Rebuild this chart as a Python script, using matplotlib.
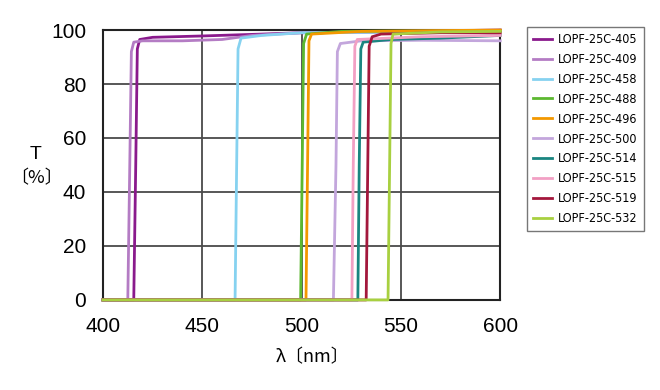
import matplotlib
matplotlib.use("Agg")
import matplotlib.pyplot as plt
from matplotlib import font_manager
from matplotlib.font_manager import FontProperties

names = ["LOPF-25C-405", "LOPF-25C-409", "LOPF-25C-458", "LOPF-25C-488", "LOPF-25C-496",
         "LOPF-25C-500", "LOPF-25C-514", "LOPF-25C-515", "LOPF-25C-519", "LOPF-25C-532"]
colors = ["#8a1a8c", "#b47cc4", "#86d2f0", "#5cb830", "#f39800",
          "#c3a6dc", "#1a8580", "#f2a0c4", "#a3173c", "#a8d040"]

wl_405 = [400, 415.5, 416.5, 417.3, 418.5, 425, 450, 480, 500, 550, 600]
t_405 = [0, 0, 50, 93, 96.5, 97.3, 97.8, 98.5, 99, 99.5, 100]
wl_409 = [400, 412.5, 413.5, 414.3, 415.5, 420, 440, 460, 475, 500, 600]
t_409 = [0, 0, 50, 92, 95.5, 96, 96, 96.5, 98, 99, 99.5]
wl_458 = [400, 466.5, 467.3, 468, 469.5, 480, 500, 600]
t_458 = [0, 0, 50, 93, 97, 98, 99, 99.5]
wl_488 = [400, 499.5, 500.3, 501, 502.5, 520, 600]
t_488 = [0, 0, 50, 95, 98.5, 99.5, 99.8]
wl_496 = [400, 502.2, 503, 503.7, 505, 530, 600]
t_496 = [0, 0, 50, 96, 98.5, 99.5, 100]
wl_500 = [400, 516, 517.3, 518, 519.5, 530, 560, 600]
t_500 = [0, 0, 50, 92, 95, 96, 96.2, 96]
wl_514 = [400, 528.3, 529, 529.8, 531, 545, 570, 600]
t_514 = [0, 0, 50, 93, 95.5, 96.5, 97, 98]
wl_515 = [400, 525.3, 526, 526.8, 528, 560, 600]
t_515 = [0, 0, 50, 94, 96.5, 97.5, 98]
wl_519 = [400, 532.5, 533.3, 534, 535.5, 540, 570, 600]
t_519 = [0, 0, 50, 94, 97.5, 98.5, 99, 99]
wl_532 = [400, 543.5, 544.3, 545, 546, 570, 600]
t_532 = [0, 0, 50, 95, 98.5, 99.3, 99.5]

series = [(wl_405, t_405), (wl_409, t_409), (wl_458, t_458), (wl_488, t_488), (wl_496, t_496),
          (wl_500, t_500), (wl_514, t_514), (wl_515, t_515), (wl_519, t_519), (wl_532, t_532)]

xticks = [400, 450, 500, 550, 600]
yticks = [0, 20, 40, 60, 80, 100]

avail = {f.name for f in font_manager.fontManager.ttflist}
if "Liberation Sans Narrow" in avail:
    legprop = FontProperties(family="Liberation Sans Narrow", size=10)
else:
    legprop = FontProperties(family="DejaVu Sans", stretch="condensed", size=9)
plt.rcParams['font.family'] = ["Liberation Sans", "Noto Sans CJK JP", "DejaVu Sans"]

fig = plt.figure(figsize=(6.6, 3.9), dpi=100)
ax = fig.add_axes([0.156, 0.231, 0.602, 0.692])

lines = []
for (wl, t), c, n in zip(series, colors, names):
    ln, = ax.plot(wl, t, color=c, lw=2, label=n, solid_joinstyle="round",
                  clip_on=False, zorder=3)
    lines.append(ln)

ax.set_xlim(400, 600)
ax.set_ylim(0, 100)
ax.set_xticks(xticks)
ax.set_yticks(yticks)
ax.tick_params(length=0, labelsize=15)
ax.tick_params(axis="x", pad=12)
ax.tick_params(axis="y", pad=12)
ax.grid(True, color="#4a4a4a", lw=1.3)
ax.set_axisbelow(True)
for s in ax.spines.values():
    s.set_color("#222222")
    s.set_linewidth(1.5)
    s.set_zorder(2.5)

fig.text(0.054, 0.603, "T", fontsize=14, ha="center", va="center",
         family=["Liberation Sans", "Noto Sans CJK JP"])
fig.text(0.056, 0.544, "〔%〕", fontsize=13, ha="center", va="center",
         family=["Noto Sans CJK JP", "DejaVu Sans"])
fig.text(0.474, 0.085, "λ〔nm〕", fontsize=13, ha="center", va="center",
         family=["Noto Sans CJK JP", "DejaVu Sans"])

leg = fig.legend(handles=lines, loc="upper left", bbox_to_anchor=(0.798, 0.931),
                 borderaxespad=0.0,
                 frameon=True, fancybox=False, edgecolor="#555555",
                 prop=legprop, handlelength=1.5,
                 handletextpad=0.5, labelspacing=0.55, borderpad=0.5)
leg.get_frame().set_linewidth(1.0)

fig.savefig("out.png", dpi=100)
